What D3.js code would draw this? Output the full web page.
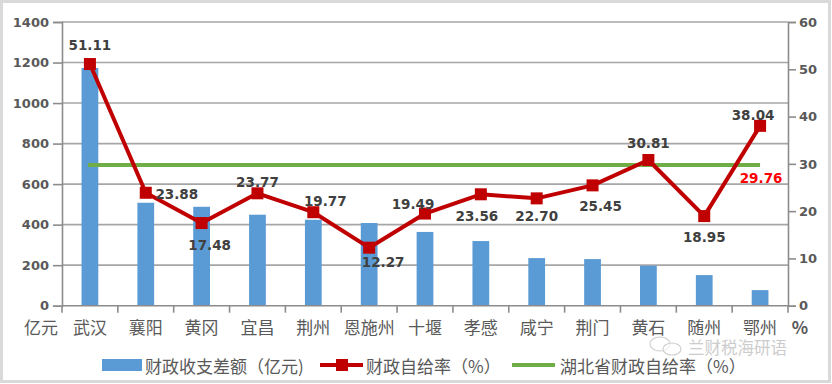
<!DOCTYPE html>
<html><head><meta charset="utf-8">
<script src="https://cdn.jsdelivr.net/npm/d3@7"></script>
<style>html,body{margin:0;padding:0;background:#fff}svg{display:block}</style>
</head><body>
<script>
const categories = ["武汉","襄阳","黄冈","宜昌","荆州","恩施州","十堰","孝感","咸宁","荆门","黄石","随州","鄂州"];
const gapValues = [1173,508,488,449,424,408,364,319,235,230,197,151,77];
const selfRate = [51.11,23.88,17.48,23.77,19.77,12.27,19.49,23.56,22.70,25.45,30.81,18.95,38.04];
const provinceRate = 29.76;
const leftTicks = [0,200,400,600,800,1000,1200,1400];
const rightTicks = [0,10,20,30,40,50,60];
const seriesNames = ["财政收支差额（亿元)","财政自给率（%）","湖北省财政自给率（%）"];
// label nudges (layout only)
const labelOffsets = [[0,-19],[31,1],[8,22],[0,-11],[12,-11],[14,14],[-12,-10],[-4,22],[0,18],[8,21],[0,-17],[0,21],[-7,-11]];

const W=832,H=384, L=62, R=788, T=22, B=305.7;
const svg=d3.select("body").append("svg").attr("width",W).attr("height",H);
svg.append("rect").attr("x",1.5).attr("y",1.5).attr("width",W-4).attr("height",H-4).attr("fill","#fff").attr("stroke","#d9d9d9").attr("stroke-width",3);

const x=d3.scaleBand().domain(categories).range([L,R]).paddingInner(0.7).paddingOuter(0.35);
const xc=d=>x(d)+x.bandwidth()/2;
const yL=d3.scaleLinear().domain([0,1400]).range([B,T]);
const yR=d3.scaleLinear().domain([0,60]).range([B,T]);
const numFont="'DejaVu Sans',sans-serif", cjk="'Noto Sans CJK SC',sans-serif";

// gridlines
svg.append("g").selectAll("line").data(leftTicks.filter(v=>v>0)).join("line")
 .attr("x1",L).attr("x2",R).attr("y1",d=>yL(d)).attr("y2",d=>yL(d))
 .attr("stroke","#a6a6a6").attr("stroke-width",1.6);

// left axis
const gl=svg.append("g").attr("transform",`translate(${L},0)`)
 .call(d3.axisLeft(yL).tickValues(leftTicks).tickFormat(d3.format("d")).tickSize(9).tickPadding(4));
gl.selectAll("path,line").attr("stroke","#8c8c8c").attr("stroke-width",1.6);
gl.selectAll("text").attr("font-family",numFont).attr("font-weight","bold").attr("font-size",13).attr("fill","#595959");

// right axis
const gr=svg.append("g").attr("transform",`translate(${R},0)`)
 .call(d3.axisRight(yR).tickValues(rightTicks).tickFormat(d3.format("d")).tickSize(8).tickPadding(3));
gr.selectAll("path,line").attr("stroke","#8c8c8c").attr("stroke-width",1.6);
gr.selectAll("text").attr("font-family",numFont).attr("font-weight","bold").attr("font-size",13).attr("fill","#595959");

// bars
svg.append("g").selectAll("rect").data(categories).join("rect")
 .attr("x",d=>x(d)).attr("width",x.bandwidth())
 .attr("y",(d,i)=>yL(gapValues[i])).attr("height",(d,i)=>B-yL(gapValues[i]))
 .attr("fill","#5b9bd5");

// bottom axis
const step=x.step();
const bounds=d3.range(categories.length+1).map(i=>L+i*step);
svg.append("line").attr("x1",L).attr("x2",R).attr("y1",B).attr("y2",B).attr("stroke","#8c8c8c").attr("stroke-width",1.6);
svg.append("g").selectAll("line").data(bounds).join("line")
 .attr("x1",d=>d).attr("x2",d=>d).attr("y1",B).attr("y2",B+7).attr("stroke","#8c8c8c").attr("stroke-width",1.6);
svg.append("g").selectAll("text").data(categories).join("text")
 .attr("x",d=>xc(d)).attr("y",334).attr("text-anchor","middle")
 .attr("font-family",cjk).attr("font-size",17).attr("fill","#595959").text(d=>d);
svg.append("text").attr("x",41).attr("y",334).attr("text-anchor","middle").attr("font-family",cjk).attr("font-size",17).attr("fill","#595959").text("亿元");
svg.append("text").attr("x",800).attr("y",334).attr("text-anchor","middle").attr("font-family",cjk).attr("font-size",17).attr("fill","#595959").attr("font-weight","bold").text("%");

// province line
svg.append("line").attr("x1",xc(categories[0])-2).attr("x2",xc(categories[categories.length-1]))
 .attr("y1",yR(provinceRate)).attr("y2",yR(provinceRate)).attr("stroke","#70ad47").attr("stroke-width",4);

// self rate line
const line=d3.line().x((d,i)=>xc(categories[i])).y(d=>yR(d));
svg.append("path").datum(selfRate).attr("d",line).attr("fill","none").attr("stroke","#c00000").attr("stroke-width",4).attr("stroke-linejoin","round");
svg.append("g").selectAll("rect").data(selfRate).join("rect")
 .attr("x",(d,i)=>xc(categories[i])-6).attr("y",d=>yR(d)-6).attr("width",12).attr("height",12).attr("fill","#c00000");

// data labels
svg.append("g").selectAll("text").data(selfRate).join("text")
 .attr("x",(d,i)=>xc(categories[i])+labelOffsets[i][0])
 .attr("y",(d,i)=>yR(d)+labelOffsets[i][1])
 .attr("text-anchor","middle").attr("dominant-baseline","central")
 .attr("font-family",numFont).attr("font-weight","bold").attr("font-size",13.5).attr("fill","#404040")
 .text(d=>d.toFixed(2));
svg.append("text").attr("x",xc(categories[categories.length-1])+1).attr("y",yR(provinceRate)+13)
 .attr("text-anchor","middle").attr("dominant-baseline","central")
 .attr("font-family",numFont).attr("font-weight","bold").attr("font-size",13.5).attr("fill","#ff0000")
 .text(provinceRate.toFixed(2));

// legend
const ly=365;
const lg=svg.append("g");
lg.append("rect").attr("x",102).attr("y",ly-6).attr("width",40).attr("height",12).attr("fill","#5b9bd5");
lg.append("text").attr("x",145).attr("y",ly).attr("dominant-baseline","central").attr("font-family",cjk).attr("font-size",17).attr("fill","#595959").text(seriesNames[0]);
lg.append("line").attr("x1",320).attr("x2",363).attr("y1",ly).attr("y2",ly).attr("stroke","#c00000").attr("stroke-width",4);
lg.append("rect").attr("x",336).attr("y",ly-6).attr("width",12).attr("height",12).attr("fill","#c00000");
lg.append("text").attr("x",366).attr("y",ly).attr("dominant-baseline","central").attr("font-family",cjk).attr("font-size",17).attr("fill","#595959").text(seriesNames[1]);
lg.append("line").attr("x1",512).attr("x2",555).attr("y1",ly).attr("y2",ly).attr("stroke","#70ad47").attr("stroke-width",4);
lg.append("text").attr("x",560).attr("y",ly).attr("dominant-baseline","central").attr("font-family",cjk).attr("font-size",17).attr("fill","#595959").text(seriesNames[2]);

// watermark
const wm=svg.append("g").attr("opacity",0.85);
wm.append("ellipse").attr("cx",660).attr("cy",344).attr("rx",10).attr("ry",7).attr("fill","none").attr("stroke","#c8c8c8").attr("stroke-width",1.2);
wm.append("ellipse").attr("cx",672).attr("cy",349).attr("rx",9).attr("ry",6).attr("fill","rgba(255,255,255,0.7)").attr("stroke","#c8c8c8").attr("stroke-width",1.2);
wm.append("text").attr("x",688).attr("y",347).attr("dominant-baseline","central").attr("font-family",cjk).attr("font-size",16.5).attr("fill","#c4c4c4").text("兰财税海研语");
</script>
</body></html>
